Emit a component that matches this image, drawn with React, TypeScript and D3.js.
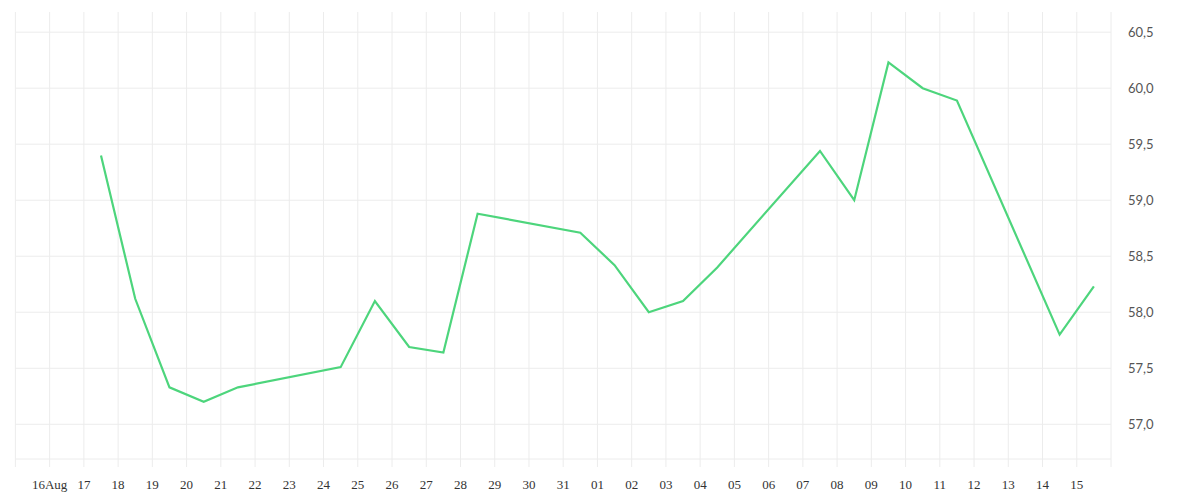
import * as d3 from "d3";

// daily closing values (weekdays only), plotted at the middle of each day
const dates = [
  "2020-08-17", "2020-08-18", "2020-08-19", "2020-08-20", "2020-08-21",
  "2020-08-24", "2020-08-25", "2020-08-26", "2020-08-27", "2020-08-28",
  "2020-08-31", "2020-09-01", "2020-09-02", "2020-09-03", "2020-09-04",
  "2020-09-07", "2020-09-08", "2020-09-09", "2020-09-10", "2020-09-11",
  "2020-09-14", "2020-09-15",
];
const values = [
  59.4, 58.12, 57.33, 57.2, 57.33,
  57.51, 58.1, 57.69, 57.64, 58.88,
  58.71, 58.42, 58.0, 58.1, 58.4,
  59.44, 59.0, 60.23, 60.0, 59.89,
  57.8, 58.23,
];
const yTicks = [57.0, 57.5, 58.0, 58.5, 59.0, 59.5, 60.0, 60.5];
const dayStart = "2020-08-15";
const dayEnd = "2020-09-16";

const WIDTH = 1200;
const HEIGHT = 500;
const plot = { left: 15.4, right: 1111, top: 12, bottom: 459 };
const LINE_COLOR = "#4dd57c";
const GRID_COLOR = "#ececec";

const parse = d3.utcParse("%Y-%m-%d");

export default function App() {
  const start = parse(dayStart)!;
  const end = parse(dayEnd)!;

  const x = d3.scaleUtc().domain([start, end]).range([plot.left, plot.right]);
  const y = d3.scaleLinear().domain([56.69, 60.68]).range([plot.bottom, plot.top]);

  const days = d3.utcDay.range(start, d3.utcDay.offset(end, 1));

  const points = dates.map((d, i) => ({
    date: d3.utcHour.offset(parse(d)!, 12),
    value: values[i],
  }));

  const line = d3
    .line<{ date: Date; value: number }>()
    .x((d) => x(d.date))
    .y((d) => y(d.value));

  const fmtDay = d3.utcFormat("%d");
  const labelFor = (d: Date) =>
    d.getTime() === d3.utcDay.offset(start, 1).getTime()
      ? `${fmtDay(d)}${d3.utcFormat("%b")(d)}`
      : fmtDay(d);
  const fmtY = (v: number) => v.toFixed(1).replace(".", ",");

  return (
    <svg
      width={WIDTH}
      height={HEIGHT}
      style={{ position: "absolute", left: 0, top: 0, background: "#fff" }}
    >
      {/* horizontal grid */}
      {yTicks.map((t) => (
        <line
          key={t}
          x1={plot.left}
          x2={plot.right}
          y1={y(t)}
          y2={y(t)}
          stroke={GRID_COLOR}
        />
      ))}
      <line
        x1={plot.left}
        x2={plot.right}
        y1={plot.bottom}
        y2={plot.bottom}
        stroke={GRID_COLOR}
      />

      {/* vertical grid, one line per day, running past the base as a tick */}
      {days.map((d) => (
        <line
          key={d.getTime()}
          x1={x(d)}
          x2={x(d)}
          y1={plot.top}
          y2={plot.bottom + 8}
          stroke={GRID_COLOR}
        />
      ))}

      {/* x labels */}
      {days
        .filter((d) => d > start && d < end)
        .map((d) => (
          <text
            key={d.getTime()}
            x={x(d)}
            y={489}
            textAnchor="middle"
            fontFamily="'Liberation Serif', serif"
            fontSize={13}
            fill="#333"
          >
            {labelFor(d)}
          </text>
        ))}

      {/* y labels */}
      {yTicks.map((t) => (
        <text
          key={t}
          x={1128}
          y={y(t)}
          dy="0.35em"
          fontFamily="Lato, sans-serif"
          fontSize={13}
          fill="#555"
        >
          {fmtY(t)}
        </text>
      ))}

      <path
        d={line(points) ?? ""}
        fill="none"
        stroke={LINE_COLOR}
        strokeWidth={2.2}
        strokeLinejoin="miter"
      />
    </svg>
  );
}
